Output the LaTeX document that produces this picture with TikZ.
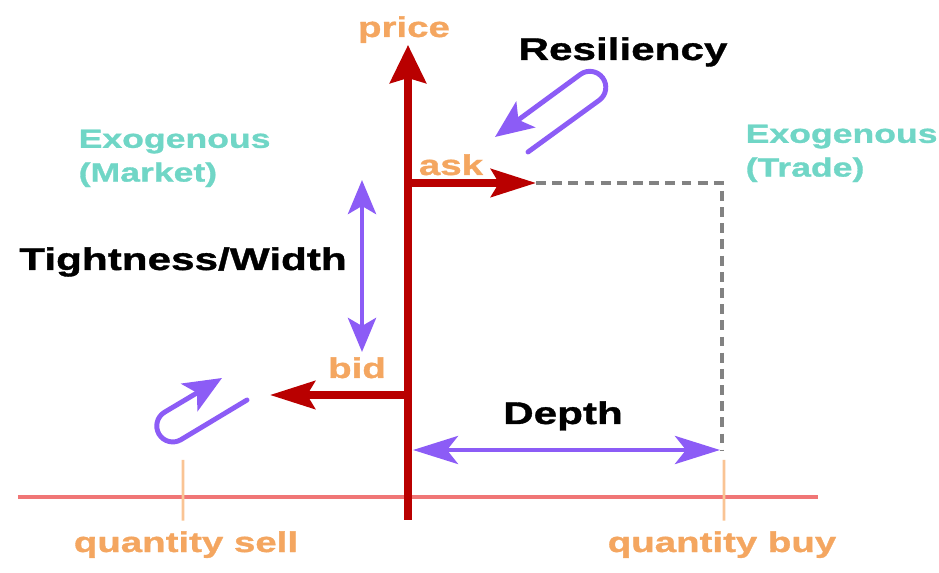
\documentclass[tikz,border=0pt]{standalone}
\usepackage{fontspec}
\newfontfamily\widesans[FakeStretch=1.35, FakeBold=1.2]{Liberation Sans Bold}
\usetikzlibrary{arrows.meta}
\definecolor{pricered}{RGB}{185,0,0}
\definecolor{loopviolet}{RGB}{140,92,246}
\definecolor{labelorange}{RGB}{244,166,96}
\definecolor{labelcyan}{RGB}{112,214,198}
\definecolor{axispink}{RGB}{240,118,118}
\definecolor{tickorange}{RGB}{250,196,148}
\definecolor{dashgray}{RGB}{130,130,130}
\begin{document}
\begin{tikzpicture}[
    redline/.style={draw=pricered, line width=2pt},
    vioarrow/.style={draw=loopviolet, line width=1.4pt, line cap=round},
    redtip/.style={-{Stealth[length=4.5mm, width=2.8mm, inset=0.8mm]}},
    viotip/.style={{Stealth[length=4.5mm, width=2.8mm, inset=1.1mm]}-{Stealth[length=4.5mm, width=2.8mm, inset=1.1mm]}},
    looptip/.style={-{Stealth[length=3.8mm, width=3.2mm, inset=0.9mm]}},
    bigword/.style={font=\widesans\fontsize{8.9}{10}\selectfont, inner sep=0},
    orangeword/.style={font=\widesans\fontsize{8.1}{9}\selectfont, text=labelorange, inner sep=0},
    cyanword/.style={font=\widesans\fontsize{7.5}{9.6}\selectfont, text=labelcyan, inner sep=0, align=left}
  ]
  \useasboundingbox (0,0) rectangle (9.39,5.72);
  % points
  \coordinate (qleft) at (0.18,0.75);
  \coordinate (qright) at (8.18,0.75);
  \coordinate (foot) at (4.08,0.52);
  \coordinate (ptop) at (4.08,5.27);
  \coordinate (askfoot) at (4.08,3.89);
  \coordinate (asktip) at (5.36,3.89);
  \coordinate (bidfoot) at (4.08,1.77);
  \coordinate (bidtip) at (2.70,1.77);
  \coordinate (corner) at (7.22,3.89);
  \coordinate (dbottom) at (7.22,1.22);
  \coordinate (dleft) at (4.13,1.22);
  \coordinate (dright) at (7.20,1.22);
  \coordinate (ttop) at (3.62,3.92);
  \coordinate (tbottom) at (3.62,2.20);
  \coordinate (rtail) at (5.28,4.20);
  \coordinate (rtip) at (4.95,4.35);
  \coordinate (ltail) at (2.47,1.72);
  \coordinate (ltip) at (2.22,1.94);
  \coordinate (sellup) at (1.83,1.12);
  \coordinate (buyup) at (7.24,1.12);
  % labels
  \node[orangeword, anchor=base] (price) at (4.04,5.35) {price};
  \node[orangeword, anchor=base] (ask) at (4.51,3.97) {ask};
  \node[orangeword, anchor=base] (bid) at (3.57,1.94) {bid};
  \node[orangeword, anchor=base] (qsell) at (1.86,0.20) {quantity sell};
  \node[orangeword, anchor=base] (qbuy) at (7.22,0.20) {quantity buy};
  \node[bigword, anchor=base] (resil) at (6.23,5.12) {Resiliency};
  \node[bigword, anchor=base] (tight) at (1.83,3.02) {Tightness/Width};
  \node[bigword, anchor=base] (depth) at (5.63,1.48) {Depth};
  \node[cyanword, anchor=north west] (exomarket) at (0.78,4.43) {Exogenous\\(Market)};
  \node[cyanword, anchor=north west] (exotrade) at (7.45,4.48) {Exogenous\\(Trade)};
  % axes
  \draw[axispink, line width=1.1pt] (qleft) -- (qright);
  \draw[tickorange, line width=0.8pt] (qsell.north) ++(-0.03,0.1) -- (sellup);
  \draw[tickorange, line width=0.8pt] (qbuy.north) ++(0.02,0.1) -- (buyup);
  \draw[redline, -{Stealth[length=3.8mm, width=3.6mm, inset=0.5mm]}] (foot) -- (ptop);
  \draw[redline, redtip] (askfoot) -- (asktip);
  \draw[redline, redtip] (bidfoot) -- (bidtip);
  % edges
  \draw[dashgray, line width=1pt, dash pattern=on 2.8pt off 1.8pt] (asktip) -- (corner) -- (dbottom);
  \draw[vioarrow, viotip] (dleft) -- (dright);
  \draw[vioarrow, {Stealth[length=3.4mm, width=2.8mm, inset=0.8mm]}-{Stealth[length=3.4mm, width=2.8mm, inset=0.8mm]}] (ttop) -- (tbottom);
  % loops
  \draw[vioarrow, looptip] (rtail) -- ++(36:0.88) arc[start angle=-54, delta angle=180, radius=0.16] -- (rtip);
  \draw[vioarrow, looptip] (ltail) -- ++(211:0.77) arc[start angle=-59, delta angle=-180, radius=0.16] -- (ltip);
\end{tikzpicture}
\end{document}
